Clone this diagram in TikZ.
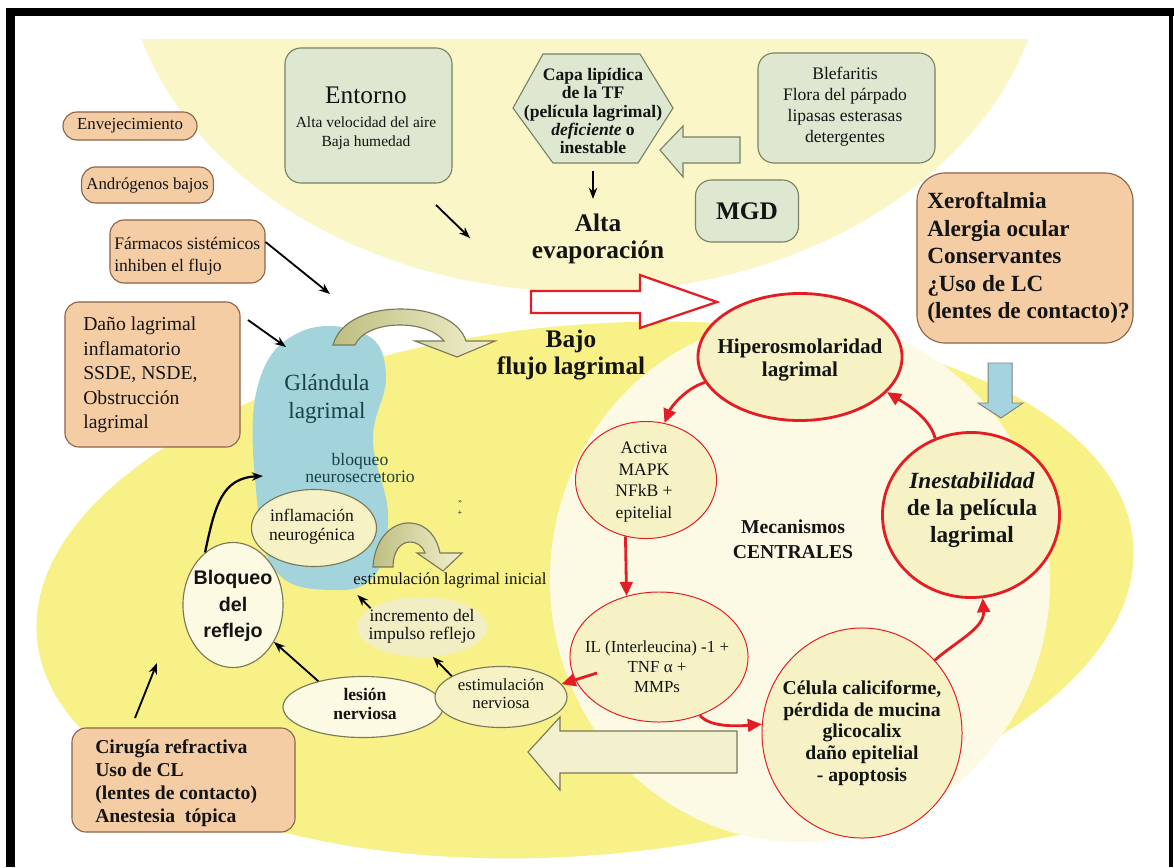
\documentclass[tikz,border=0pt]{standalone}
\usepackage{fontspec}
\setmainfont{Liberation Serif}
\newfontfamily\arialf{Liberation Sans}
\usetikzlibrary{shapes.geometric,arrows.meta,calc}
\newcommand\myfs[2]{\fontsize{#1}{#2}\selectfont}
\definecolor{paleY}{RGB}{250,246,200}
\definecolor{brightY}{RGB}{248,241,135}
\definecolor{creamF}{RGB}{252,250,228}
\definecolor{blueG}{RGB}{163,212,220}
\definecolor{orangeF}{RGB}{245,205,165}
\definecolor{orangeB}{RGB}{140,100,70}
\definecolor{greenF}{RGB}{222,232,208}
\definecolor{greenB}{RGB}{120,130,100}
\definecolor{ellF}{RGB}{246,242,198}
\definecolor{ellL}{RGB}{252,250,226}
\definecolor{redC}{RGB}{228,28,36}
\definecolor{olB}{RGB}{120,120,90}
\definecolor{oliveD}{RGB}{190,190,130}
\definecolor{oliveL}{RGB}{242,240,205}
\definecolor{tealT}{RGB}{25,65,70}
\definecolor{incF}{RGB}{242,238,196}
\definecolor{textc}{RGB}{20,20,20}
\definecolor{arrowB}{RGB}{165,212,225}
\begin{document}
\begin{tikzpicture}[x=0.025cm,y=-0.025cm,
  txt/.style={inner sep=0pt, text=textc},
  obox/.style={draw=orangeB, fill=orangeF, line width=0.8pt, rounded corners=0.35cm, text=textc},
  gbox/.style={draw=greenB, fill=greenF, line width=0.8pt, rounded corners=0.4cm, text=textc},
  redthick/.style={ellipse, draw=redC, line width=2pt, fill=ellF, inner sep=0pt},
  redthin/.style={ellipse, draw=redC, line width=0.7pt, fill=ellF, inner sep=0pt},
  olel/.style={ellipse, draw=olB, line width=0.8pt, fill=ellF, inner sep=0pt},
  barrow/.style={-{Stealth[length=8pt,width=6pt]}, line width=1.3pt, draw=black},
  rarrow/.style={-{Triangle[length=10pt,width=9pt]}, line width=2pt, draw=redC},
  blockar/.style={line width=0.8pt, draw=olB, fill=oliveL}
]
\useasboundingbox (0,0) rectangle (1174,867);
\fill[white] (0,0) rectangle (1174,867);

% background regions
\begin{scope}
  \clip (15,40) rectangle (1169,867);
  \fill[paleY] (585,-60) ellipse [x radius=11.55cm, y radius=8.8cm];
\end{scope}
\fill[brightY, rotate around={5:(585,590)}] (585,590) ellipse [x radius=13.75cm, y radius=6.625cm];
\fill[creamF] (800,580) ellipse [x radius=6.25cm, y radius=6.55cm];

% lacrimal gland
\fill[blueG] plot[smooth cycle, tension=0.7] coordinates {(300,332) (365,334) (386,375) (373,440) (388,515) (375,575) (330,590) (275,570) (256,490) (258,385)};
\node[txt, text=tealT, align=center, font=\myfs{16.5}{20}] (gland) at (327,399) {Glándula\\lagrimal};
\node[txt, text=tealT, align=center, font=\myfs{12.5}{12.5}] (bneu) at (360,468) {bloqueo\\neurosecretorio};

% curved olive arrows
\path[blockar, left color=oliveD, right color=oliveL] (333,345) .. controls (340,320) and (370,309) .. (400,309) .. controls (435,309) and (460,322) .. (466,341) -- (495,341) -- (457,357) -- (415,341) -- (444,341) .. controls (438,333) and (422,325) .. (400,325) .. controls (378,325) and (360,333) .. (355,345) -- cycle;
\path[blockar, left color=oliveD, right color=oliveL] (373,567) .. controls (375,535) and (395,522) .. (410,523) .. controls (428,524) and (437,538) .. (440,553) -- (462,553) -- (443,571) -- (417,553) -- (425,553) .. controls (422,545) and (416,542) .. (410,542) .. controls (400,542) and (393,552) .. (393,567) -- cycle;

% left orange boxes
\node[obox, minimum width=3.35cm, minimum height=0.7cm, font=\myfs{12}{14}] (env) at (130,126) {Envejecimiento};
\node[obox, minimum width=3.275cm, minimum height=0.9cm, font=\myfs{12}{14}] (andr) at (147.5,185) {Andrógenos bajos};
\node[obox, minimum width=3.875cm, minimum height=1.575cm] (farm) at (187.5,251.5) {};
\node[txt, anchor=west, align=left, font=\myfs{12.5}{15.6}] (farmt) at (114,256) {Fármacos sistémicos\\inhiben el flujo};
\node[obox, minimum width=4.375cm, minimum height=3.625cm] (dano) at (152.5,374.5) {};
\node[txt, anchor=west, align=left, font=\myfs{14}{17.4}] (danot) at (83,375) {Daño lagrimal\\inflamatorio\\SSDE, NSDE,\\Obstrucción\\lagrimal};

% top green boxes
\node[gbox, minimum width=4.175cm, minimum height=3.375cm] (ent) at (368.5,115.5) {};
\node[txt, font=\myfs{18}{20}] (ent1) at (366,95) {Entorno};
\node[txt, font=\myfs{11}{13}] (ent2) at (366,122) {Alta velocidad del aire};
\node[txt, font=\myfs{11}{13}] (ent3) at (366,143) {Baja humedad};

\draw[greenB, fill=greenF, line width=0.8pt] (513,108) -- (543,54) -- (640,54) -- (673,108) -- (638,163) -- (553,163) -- cycle;
\node[txt, align=center, font=\myfs{12.5}{13}\bfseries] (hex) at (593,111) {Capa lipídica\\de la TF\\(película lagrimal)\\\textit{deficiente} o\\inestable};

\node[gbox, minimum width=4.425cm, minimum height=2.75cm] (blef) at (846.5,108) {};
\node[txt, align=center, font=\myfs{12.5}{15}] (bleft) at (845,107) {Blefaritis\\Flora del párpado\\lipasas esterasas\\detergentes};

\node[gbox, minimum width=2.575cm, minimum height=1.55cm, font=\myfs{18}{20}\bfseries] (mgd) at (747,211) {MGD};

\draw[blockar, fill=greenF, draw=greenB] (660,150) -- (683,126) -- (683,137) -- (740,137) -- (740,163) -- (683,163) -- (683,177) -- cycle;

\node[txt, align=center, font=\myfs{18}{19}\bfseries] (alta) at (598,239) {Alta\\evaporación};
\coordinate (hexb) at (593,171);
\coordinate (altat) at (593,199);
\draw[barrow] (hexb) -- (altat);

\coordinate (ents) at (436,205);
\coordinate (ente) at (470,238);
\draw[barrow] (ents) -- (ente);
\coordinate (farme) at (330,294);
\draw[barrow] (farm.east |- 0,242) -- (farme);
\coordinate (danos) at (248,320);
\coordinate (danoe) at (286,347);
\draw[barrow] (danos) -- (danoe);

% right orange box
\node[obox, rounded corners=0.7cm, minimum width=5.4cm, minimum height=4.25cm] (xero) at (1025,258) {};
\node[txt, anchor=west, align=left, font=\myfs{16.5}{19.5}\bfseries] (xerot) at (927,258) {Xeroftalmia\\Alergia ocular\\Conservantes\\¿Uso de LC\\(lentes de contacto)?};
\draw[line width=0.7pt, draw=gray, fill=arrowB] (988,363) -- (1012,363) -- (1012,403) -- (1023,403) -- (1001,418) -- (978,403) -- (988,403) -- cycle;

% red hollow arrow
\draw[redC, fill=white, line width=1.6pt] (531,291) -- (640,291) -- (640,275) -- (717,302) -- (640,328) -- (640,313) -- (531,313) -- cycle;
\node[txt, align=center, font=\myfs{18}{18.5}\bfseries] (bajo) at (571,355) {Bajo\\flujo lagrimal};

% central mechanisms
\node[redthick, minimum width=5.1cm, minimum height=3.175cm] (hyp) at (800,357) {};
\node[txt, align=center, font=\myfs{15}{17}\bfseries] (hypt) at (800,360) {Hiperosmolaridad\\lagrimal};
\node[redthin, minimum width=3.525cm, minimum height=2.925cm] (act) at (646,480) {};
\node[txt, align=center, font=\myfs{12.5}{15.5}] (actt) at (644,482) {Activa\\MAPK\\NFkB +\\epitelial};
\node[redthin, minimum width=4.45cm, minimum height=3.25cm] (il) at (659,657) {};
\node[txt, align=center, font=\myfs{12}{14.2}] (ilt) at (657,667) {IL (Interleucina) -1 +\\TNF α +\\MMPs};
\node[redthin, minimum width=5cm, minimum height=5.25cm] (cel) at (862,733) {};
\node[txt, align=center, font=\myfs{14}{15.4}\bfseries] (celt) at (862,733) {Célula caliciforme,\\pérdida de mucina\\glicocalix\\daño epitelial\\- apoptosis};
\node[redthick, minimum width=4.425cm, minimum height=4.125cm] (ine) at (971,515) {};
\node[txt, align=center, font=\myfs{16.5}{19}\bfseries] (inet) at (972,510) {\textit{Inestabilidad}\\de la película\\lagrimal};
\node[txt, align=center, font=\myfs{14}{17.7}\bfseries] (mec) at (793,539) {Mecanismos\\CENTRALES};

\draw[rarrow] (hyp.195) .. controls +(-20,6) and +(6,-15) .. (act.72);
\draw[rarrow] (act.250) -- (il.118);
\draw[rarrow] (il.305) .. controls +(10,12) and +(-25,2) .. (cel.175);
\draw[rarrow] (cel.45) .. controls +(20,-18) and +(2,30) .. (ine.278);
\draw[rarrow] (ine.115) .. controls +(-6,-22) and +(16,10) .. (hyp.338);

% left reflex part
\node[olel, minimum width=3.125cm, minimum height=1.925cm] (infl) at (314,528) {};
\node[txt, align=center, font=\myfs{12.5}{13.5}] (inflt) at (312,527) {inflamación\\neurogénica};
\node[txt, font=\myfs{12}{14}] (eli) at (450,580) {estimulación lagrimal inicial};
\node[txt, align=center, font=\myfs{6}{6}] (plus) at (460,508) {''\\+};
\node[ellipse, fill=incF, inner sep=0pt, minimum width=3.25cm, minimum height=1.5cm] (inc) at (422,627) {};
\node[txt, align=center, font=\myfs{12.5}{13}] (inct) at (422,626) {incremento del\\impulso reflejo};
\node[ellipse, draw=olB, line width=0.8pt, fill=ellL, inner sep=0pt, minimum width=4cm, minimum height=1.525cm] (les) at (363,707) {};
\node[txt, align=center, font=\myfs{12.5}{13}\bfseries] (lest) at (365,704) {lesión\\nerviosa};
\node[olel, minimum width=3.3cm, minimum height=1.525cm] (estn) at (501,697) {};
\node[txt, align=center, font=\myfs{12}{13}] (estnt) at (501,694) {estimulación\\nerviosa};
\node[ellipse, draw=olB, line width=0.8pt, fill=ellL, inner sep=0pt, minimum width=2.5cm, minimum height=3.125cm] (bloq) at (233,605) {};
\node[txt, align=center, font=\arialf\bfseries\myfs{14}{18.8}] (bloqt) at (233,606) {Bloqueo\\del\\reflejo};

\draw[blockar, fill=oliveL] (528,752) -- (560,717) -- (560,731) -- (737,731) -- (737,773) -- (560,773) -- (560,790) -- cycle;

\node[obox, minimum width=5.575cm, minimum height=2.6cm] (cir) at (183.5,780) {};
\node[txt, anchor=west, align=left, font=\myfs{14}{16.5}\bfseries] (cirt) at (95,783) {Cirugía refractiva\\Uso de CL\\(lentes de contacto)\\Anestesia\ \ tópica};

\coordinate (glin) at (263,476);
\draw[barrow, line width=1.6pt] (bloq.118) .. controls (215,505) and (222,478) .. (glin);
\coordinate (cirs) at (135,718);
\coordinate (cire) at (157,663);
\draw[barrow] (cirs) -- (cire);
\draw[barrow] (les.150) -- (bloq.318);
\draw[barrow] (estn.157) -- (inc.290);
\draw[barrow] (inc.160) -- ([xshift=3pt,yshift=-5pt]eli.south west);
\draw[rarrow] ($(il.center)+(-62,16)$) -- (estn.12);

% frame
\fill[black] (6,8) rectangle (1174,16);
\fill[black] (6,8) rectangle (15,867);
\fill[black] (1169,8) rectangle (1173,867);
\end{tikzpicture}
\end{document}
